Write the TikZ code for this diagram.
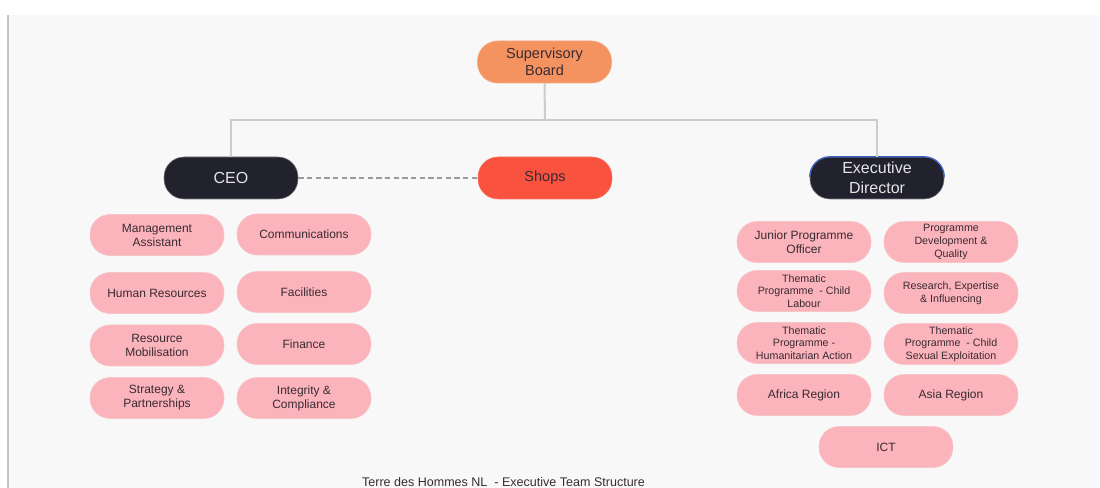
\documentclass[tikz,border=0pt]{standalone}
\usepackage{fontspec}
\setmainfont{Liberation Sans}
\definecolor{panel}{HTML}{F8F8F8}
\definecolor{panelr}{HTML}{F8F9FA}
\definecolor{edge}{HTML}{C4C4C4}
\definecolor{conn}{HTML}{CCCCCC}
\definecolor{dashc}{HTML}{9A9A9A}
\definecolor{sbfill}{HTML}{F4935F}
\definecolor{darkfill}{HTML}{22222F}
\definecolor{shopfill}{HTML}{F9523F}
\definecolor{pinkf}{HTML}{FBB4BB}
\definecolor{pinkb}{HTML}{F7C4C8}
\definecolor{txt}{HTML}{3A2A33}
\definecolor{lighttxt}{HTML}{E4E4E8}
\definecolor{edblue}{HTML}{3A64C8}
\tikzset{
  basepill/.style={rounded corners=15pt, minimum width=100.5pt, minimum height=30.75pt, align=center, inner sep=0pt},
  pill/.style={basepill, draw=pinkb, fill=pinkf, text=txt, font=\fontsize{9}{10.5}\selectfont},
  pillsm/.style={pill, font=\fontsize{8}{9.5}\selectfont},
  headbox/.style={basepill, minimum height=31.5pt, draw=#1!80!white, fill=#1},
  connline/.style={draw=conn, line width=1.5pt},
  dashline/.style={draw=dashc, line width=1.1pt, dash pattern=on 4pt off 2.5pt},
}
\begin{document}
\begin{tikzpicture}[x=0.75pt,y=-0.75pt]
\useasboundingbox (0,0) rectangle (1100,488);
\clip (0,0) rectangle (1100,488);
\fill[white] (0,0) rectangle (1100,488);
\fill[panel] (8,15) rectangle (1100,488);
\fill[panelr] (1083,15) rectangle (1100,488);
\draw[edge, line width=1.2pt] (8,15) -- (8,488);

% heads
\node[headbox=sbfill, text=txt, font=\fontsize{10.9}{12.75}\selectfont] (SB) at (544.5,62) {Supervisory\\Board};
\node[headbox=darkfill, draw=darkfill!60!white, text=lighttxt, font=\fontsize{12}{15}\selectfont] (CEO) at (231,178) {CEO};
\node[headbox=shopfill, text=txt, font=\fontsize{10.9}{12.75}\selectfont] (SH) at (545,178) {Shops};
\node[headbox=darkfill, draw=darkfill!60!white, text=lighttxt, font=\fontsize{12}{15}\selectfont] (ED) at (877,178) {Executive\\Director};
\draw[edblue, line width=0.9pt, rounded corners=15pt] ([yshift=2pt]ED.west) |- (ED.north) -| ([yshift=2pt]ED.east);

% connectors
\coordinate (J) at (545,120);
\draw[connline] (SB.south) -- (J);
\draw[connline] (CEO.north) |- (J) -| (ED.north);
\draw[dashline] (CEO.east) -- (SH.west);

% CEO side
\node[pill] (MA) at (157,235) {Management\\Assistant};
\node[pill] (CO) at (304,234.5) {Communications};
\node[pill] (HR) at (157,293) {Human Resources};
\node[pill] (FA) at (304,292) {Facilities};
\node[pill] (RM) at (157,345.5) {Resource\\Mobilisation};
\node[pill] (FI) at (304,344) {Finance};
\node[pill] (SP) at (157,398) {Strategy \&\\Partnerships};
\node[pill] (IC) at (304,398) {Integrity \&\\Compliance};

% ED side
\node[pill] (JP) at (804,242) {Junior Programme\\Officer};
\node[pillsm] (PD) at (951,242) {Programme\\Development \&\\Quality};
\node[pillsm] (TL) at (804,291) {Thematic\\Programme\ \ - Child\\Labour};
\node[pillsm] (RE) at (951,293) {Research, Expertise\\\& Influencing};
\node[pillsm] (TH) at (804,343) {Thematic\\Programme -\\Humanitarian Action};
\node[pillsm] (TS) at (951,344) {Thematic\\Programme\ \ - Child\\Sexual Exploitation};
\node[pill] (AF) at (804,395) {Africa Region};
\node[pill] (AS) at (951,395) {Asia Region};
\node[pill] (ICT) at (886,447) {ICT};

% caption at the lower edge
\node[anchor=base, text=txt, font=\fontsize{9.4}{11}\selectfont, inner sep=0pt] (CAP) at (503.5,486.5) {Terre des Hommes NL\ \ - Executive Team Structure};
\end{tikzpicture}
\end{document}
